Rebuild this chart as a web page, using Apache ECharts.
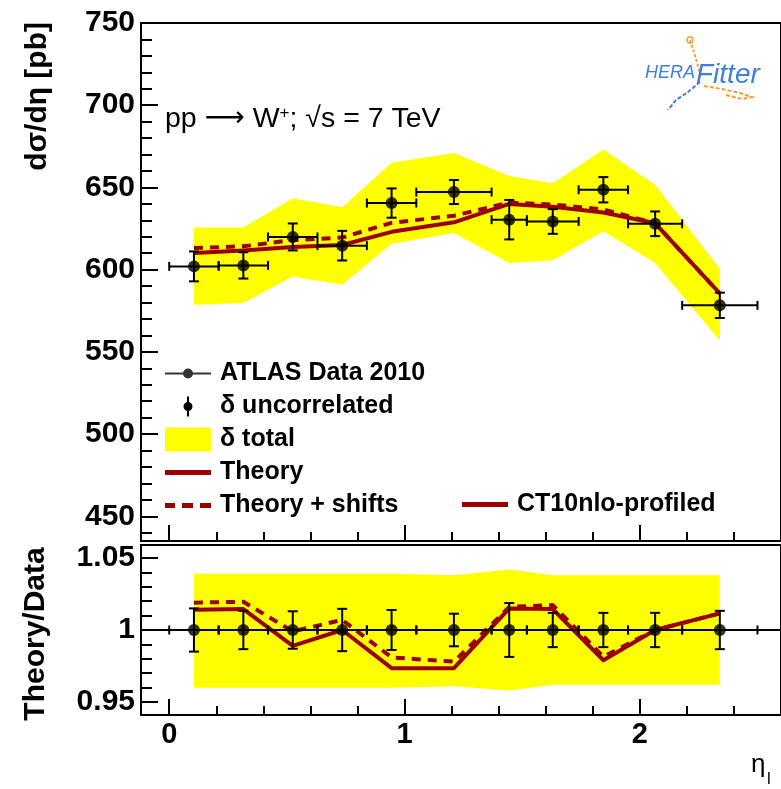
<!DOCTYPE html>
<html>
<head>
<meta charset="utf-8">
<script src="https://cdn.jsdelivr.net/npm/echarts@6/dist/echarts.min.js"></script>
<style>
html, body { margin: 0; padding: 0; background: #fff; }
#chart { width: 781px; height: 789px; }
</style>
</head>
<body>
<div id="chart"></div>
<script>
// eta bins of the W+ measurement
var etaLow    = [0, 0.21, 0.42, 0.63, 0.84, 1.05, 1.37, 1.52, 1.74, 1.95, 2.18];
var etaHigh   = [0.21, 0.42, 0.63, 0.84, 1.05, 1.37, 1.52, 1.74, 1.95, 2.18, 2.5];
var etaCentre = [0.105, 0.315, 0.525, 0.735, 0.945, 1.21, 1.445, 1.63, 1.845, 2.065, 2.34];

// upper panel, dsigma/deta [pb]
var xsecData    = [602.0, 602.6, 619.9, 614.6, 640.5, 647.2, 630.4, 629.3, 648.6, 627.9, 578.3];
var xsecUncor   = [9.1, 8.0, 8.2, 9.0, 8.9, 7.3, 12.0, 7.5, 7.7, 7.5, 7.7];
var totalUp     = [625.7, 625.7, 643.5, 638.0, 665.0, 671.0, 657.0, 652.5, 673.0, 651.6, 600.5];
var totalDown   = [578.7, 579.8, 595.9, 590.9, 615.8, 622.3, 604.0, 605.7, 623.3, 604.0, 557.0];
var theoryXsec  = [610.1, 611.7, 613.8, 615.0, 623.0, 628.8, 640.0, 638.3, 634.8, 628.2, 585.5];
var shiftedXsec = [613.2, 614.2, 618.0, 619.5, 628.5, 632.8, 640.8, 639.6, 636.6, 628.2, 585.5];

// lower panel, theory/data
var ratioData    = [1, 1, 1, 1, 1, 1, 1, 1, 1, 1, 1];
var ratioUncor   = [0.015, 0.0133, 0.013, 0.0147, 0.0139, 0.0113, 0.0187, 0.0119, 0.0119, 0.0119, 0.0133];
var ratioUp      = [1.039, 1.039, 1.039, 1.039, 1.039, 1.038, 1.042, 1.038, 1.038, 1.038, 1.038];
var ratioDown    = [0.960, 0.960, 0.960, 0.960, 0.960, 0.961, 0.958, 0.962, 0.962, 0.962, 0.962];
var ratioTheory  = [1.014, 1.0145, 0.989, 1.0, 0.9735, 0.9735, 1.015, 1.0145, 0.979, 1.0, 1.0115];
var ratioShifted = [1.019, 1.0196, 0.999, 1.007, 0.981, 0.978, 1.016, 1.0173, 0.9815, 1.0, 1.0115];

// tick labels
var xMajor = [0, 1, 2];
var xMinor = [0.2, 0.4, 0.6, 0.8, 1.2, 1.4, 1.6, 1.8, 2.2, 2.4];
var yMajor = [450, 500, 550, 600, 650, 700, 750];
var yMinor = [440, 460, 470, 480, 490, 510, 520, 530, 540, 560, 570, 580, 590,
              610, 620, 630, 640, 660, 670, 680, 690, 710, 720, 730, 740];
var rMajor = [0.95, 1, 1.05];
var rMinor = [0.96, 0.97, 0.98, 0.99, 1.01, 1.02, 1.03, 1.04];

var RED = '#9a0000';
var YELLOW = '#ffff00';
var FONT = 'Liberation Sans';

// legend icons, drawn in a 50x24 box (tiny corner squares keep the box size)
var box = 'M0,0h0.01v0.01h-0.01z M49.99,23.99h0.01v0.01h-0.01z ';
var iconData   = 'path://' + box + 'M0,11h46v2h-46z M18,12a5,5 0 1,1 10,0a5,5 0 1,1 -10,0z';
var iconUncor  = 'path://' + box + 'M22,2h2v20h-2z M18.5,12a4.5,4.5 0 1,1 9,0a4.5,4.5 0 1,1 -9,0z';
var iconTotal  = 'path://' + box + 'M0,0h46v24h-46z';
var iconLine   = 'path://' + box + 'M0,9.5h46v5h-46z';
var iconDashed = 'path://' + box + 'M0,9.5h10v5h-10z M17,9.5h11v5h-11z M35,9.5h11v5h-11z';

function pairs(xs, ys) {
  return xs.map(function (x, i) { return [x, ys[i]]; });
}

function bandRender(up, down) {
  return function (params, api) {
    if (params.dataIndex !== 0) return null;
    var pts = [];
    for (var i = 0; i < etaCentre.length; i++) pts.push(api.coord([etaCentre[i], up[i]]));
    for (var j = etaCentre.length - 1; j >= 0; j--) pts.push(api.coord([etaCentre[j], down[j]]));
    return { type: 'polygon', shape: { points: pts }, style: { fill: YELLOW } };
  };
}

function errorRender(params, api) {
  var x = api.value(0), y = api.value(1);
  var c = api.coord([x, y]);
  var xl = api.coord([api.value(2), y])[0];
  var xr = api.coord([api.value(3), y])[0];
  var yb = api.coord([x, api.value(4)])[1];
  var yt = api.coord([x, api.value(5)])[1];
  var st = { stroke: '#000', lineWidth: 2 };
  var seg = function (x1, y1, x2, y2) {
    return { type: 'line', shape: { x1: x1, y1: y1, x2: x2, y2: y2 }, style: st };
  };
  return {
    type: 'group',
    children: [
      seg(xl, c[1], xr, c[1]),
      seg(c[0], yt, c[0], yb),
      seg(xl, c[1] - 4.5, xl, c[1] + 4.5),
      seg(xr, c[1] - 4.5, xr, c[1] + 4.5),
      seg(c[0] - 5, yt, c[0] + 5, yt),
      seg(c[0] - 5, yb, c[0] + 5, yb)
    ]
  };
}

function errorRows(vals, errs) {
  return etaCentre.map(function (x, i) {
    return [x, vals[i], etaLow[i], etaHigh[i], vals[i] - errs[i], vals[i] + errs[i]];
  });
}

function xAxisDef(grid, values, len, labels) {
  return {
    type: 'value', gridIndex: grid, min: -0.12, max: 2.6, position: 'bottom',
    axisLine: { show: false, onZero: false }, splitLine: { show: false },
    axisTick: { show: true, inside: true, length: len, customValues: values,
                lineStyle: { color: '#000', width: 2 } },
    axisLabel: labels ? { show: true, customValues: values, margin: 5, color: '#000',
                fontFamily: FONT, fontWeight: 'bold', fontSize: 29 } : { show: false }
  };
}

function yAxisDef(grid, min, max, values, len, labels) {
  return {
    type: 'value', gridIndex: grid, min: min, max: max, position: 'left',
    axisLine: { show: false, onZero: false }, splitLine: { show: false },
    axisTick: { show: true, inside: true, length: len, customValues: values,
                lineStyle: { color: '#000', width: 2 } },
    axisLabel: labels ? { show: true, customValues: values, margin: 6, color: '#000',
                fontFamily: FONT, fontWeight: 'bold', fontSize: 30 } : { show: false }
  };
}

var chart = echarts.init(document.getElementById('chart'), null, { renderer: 'canvas' });

var legendText = { fontFamily: FONT, fontSize: 25, fontWeight: 'bold', color: '#000', lineHeight: 24 };

chart.setOption({
  animation: false,
  backgroundColor: '#fff',
  grid: [
    { left: 141, right: -2, top: 23, height: 518, show: true, borderColor: '#000', borderWidth: 2, backgroundColor: 'transparent' },
    { left: 141, right: -2, top: 545, height: 170, show: true, borderColor: '#000', borderWidth: 2, backgroundColor: 'transparent' }
  ],
  xAxis: [
    xAxisDef(0, xMajor, 16, false),
    xAxisDef(0, xMinor, 9, false),
    xAxisDef(1, xMajor, 16, true),
    xAxisDef(1, xMinor, 9, false)
  ],
  yAxis: [
    yAxisDef(0, 435, 750, yMajor, 17, true),
    yAxisDef(0, 435, 750, yMinor, 11, false),
    yAxisDef(1, 0.941, 1.059, rMajor, 17, true),
    yAxisDef(1, 0.941, 1.059, rMinor, 11, false)
  ],
  legend: [
    {
      orient: 'vertical', left: 165, top: 361, padding: 0, itemWidth: 50, itemHeight: 24, itemGap: 8,
      selectedMode: false, textStyle: legendText, itemStyle: { borderWidth: 0 },
      data: [
        { name: 'ATLAS Data 2010', icon: iconData },
        { name: 'δ uncorrelated', icon: iconUncor },
        { name: 'δ total', icon: iconTotal },
        { name: 'Theory', icon: iconLine },
        { name: 'Theory + shifts', icon: iconDashed }
      ]
    },
    {
      orient: 'vertical', left: 462, top: 492, padding: 0, itemWidth: 50, itemHeight: 24,
      selectedMode: false, textStyle: legendText, itemStyle: { borderWidth: 0 },
      data: [{ name: 'CT10nlo-profiled', icon: iconLine }]
    }
  ],
  graphic: { elements: [
    { type: 'text', x: 38, y: 22, rotation: Math.PI / 2,
      style: { text: 'dσ/dη [pb]', fontFamily: FONT, fontWeight: 'bold', fontSize: 30,
               fill: '#000', align: 'right', verticalAlign: 'middle' } },
    { type: 'text', x: 36, y: 634, rotation: Math.PI / 2,
      style: { text: 'Theory/Data', fontFamily: FONT, fontWeight: 'bold', fontSize: 30,
               fill: '#000', align: 'center', verticalAlign: 'middle' } },
    { type: 'text', x: 165, y: 119,
      style: { text: 'pp {arr|⟶} W{sup|+}; √s = 7 TeV', fontFamily: FONT, fontSize: 28.5, fill: '#000',
               align: 'left', verticalAlign: 'middle',
               rich: {
                 sup: { fontFamily: FONT, fontSize: 17, verticalAlign: 'top', fill: '#000' },
                 arr: { fontFamily: 'DejaVu Sans', fontSize: 28, fill: '#000' }
               } } },
    { type: 'text', x: 751, y: 765,
      style: { text: 'η', fontFamily: FONT, fontSize: 26, fill: '#000', align: 'left', verticalAlign: 'middle' } },
    { type: 'text', x: 767, y: 779,
      style: { text: 'l', fontFamily: FONT, fontSize: 17, fill: '#000', align: 'left', verticalAlign: 'middle' } },
    // HERAFitter logo
    { type: 'polyline', shape: { points: [[690, 40], [694, 52], [698, 66], [701, 78]] },
      style: { stroke: '#f0a030', lineWidth: 2, lineDash: [3, 2], fill: null } },
    { type: 'circle', shape: { cx: 690, cy: 40, r: 3 }, style: { stroke: '#f0a030', lineWidth: 1.5, fill: null } },
    { type: 'polyline', shape: { points: [[700, 82], [688, 92], [676, 100], [668, 110]] },
      style: { stroke: '#3f7fd8', lineWidth: 2, lineDash: [4, 2], fill: null } },
    { type: 'polyline', shape: { points: [[704, 86], [722, 89], [740, 93], [752, 97], [742, 99], [726, 95]] },
      style: { stroke: '#f0a030', lineWidth: 2, lineDash: [4, 2], fill: null } },
    { type: 'text', x: 645, y: 82,
      style: { text: 'HERA', fontFamily: FONT, fontStyle: 'italic', fontSize: 18, fill: '#3f7fd8',
               align: 'left', verticalAlign: 'bottom' } },
    { type: 'text', x: 696, y: 89,
      style: { text: 'Fitter', fontFamily: FONT, fontStyle: 'italic', fontSize: 28, fill: '#3f7fd8',
               align: 'left', verticalAlign: 'bottom' } }
  ] },
  series: [
    // upper panel
    { name: 'δ total', type: 'custom', xAxisIndex: 0, yAxisIndex: 0, z: 1, silent: true,
      itemStyle: { color: YELLOW }, renderItem: bandRender(totalUp, totalDown),
      data: pairs(etaCentre, xsecData) },
    { name: 'Theory', type: 'line', xAxisIndex: 0, yAxisIndex: 0, z: 2, symbol: 'none', silent: true,
      itemStyle: { color: RED, borderWidth: 0 }, lineStyle: { color: RED, width: 4, join: 'round' },
      data: pairs(etaCentre, theoryXsec) },
    { name: 'Theory + shifts', type: 'line', xAxisIndex: 0, yAxisIndex: 0, z: 2, symbol: 'none', silent: true,
      itemStyle: { color: RED, borderWidth: 0 }, lineStyle: { color: RED, width: 4, type: [9, 7] },
      data: pairs(etaCentre, shiftedXsec) },
    { name: 'CT10nlo-profiled', type: 'line', xAxisIndex: 0, yAxisIndex: 0, z: 2, symbol: 'none', silent: true,
      itemStyle: { color: RED, borderWidth: 0 }, lineStyle: { color: RED, width: 4 }, data: [] },
    { name: 'δ uncorrelated', type: 'custom', xAxisIndex: 0, yAxisIndex: 0, z: 3, silent: true,
      itemStyle: { color: '#000' }, renderItem: errorRender, encode: { x: 0, y: 1 },
      data: errorRows(xsecData, xsecUncor) },
    { name: 'ATLAS Data 2010', type: 'scatter', xAxisIndex: 0, yAxisIndex: 0, z: 4, silent: true,
      symbol: 'circle', symbolSize: 12, itemStyle: { color: '#000' },
      data: pairs(etaCentre, xsecData) },

    // lower panel
    { name: 'ratio total', type: 'custom', xAxisIndex: 2, yAxisIndex: 2, z: 1, silent: true,
      renderItem: bandRender(ratioUp, ratioDown), data: pairs(etaCentre, ratioData) },
    { name: 'ratio theory', type: 'line', xAxisIndex: 2, yAxisIndex: 2, z: 2, symbol: 'none', silent: true,
      lineStyle: { color: RED, width: 4, join: 'round' }, data: pairs(etaCentre, ratioTheory) },
    { name: 'ratio shifts', type: 'line', xAxisIndex: 2, yAxisIndex: 2, z: 2, symbol: 'none', silent: true,
      lineStyle: { color: RED, width: 4, type: [9, 7] }, data: pairs(etaCentre, ratioShifted) },
    { name: 'ratio uncor', type: 'custom', xAxisIndex: 2, yAxisIndex: 2, z: 3, silent: true,
      renderItem: errorRender, encode: { x: 0, y: 1 },
      data: errorRows(ratioData, ratioUncor),
      markLine: { silent: true, symbol: 'none', label: { show: false },
                  lineStyle: { color: '#000', width: 2, type: 'solid' }, data: [{ yAxis: 1 }] } },
    { name: 'ratio points', type: 'scatter', xAxisIndex: 2, yAxisIndex: 2, z: 4, silent: true,
      symbol: 'circle', symbolSize: 12, itemStyle: { color: '#000' },
      data: pairs(etaCentre, ratioData) }
  ]
});
</script>
</body>
</html>
